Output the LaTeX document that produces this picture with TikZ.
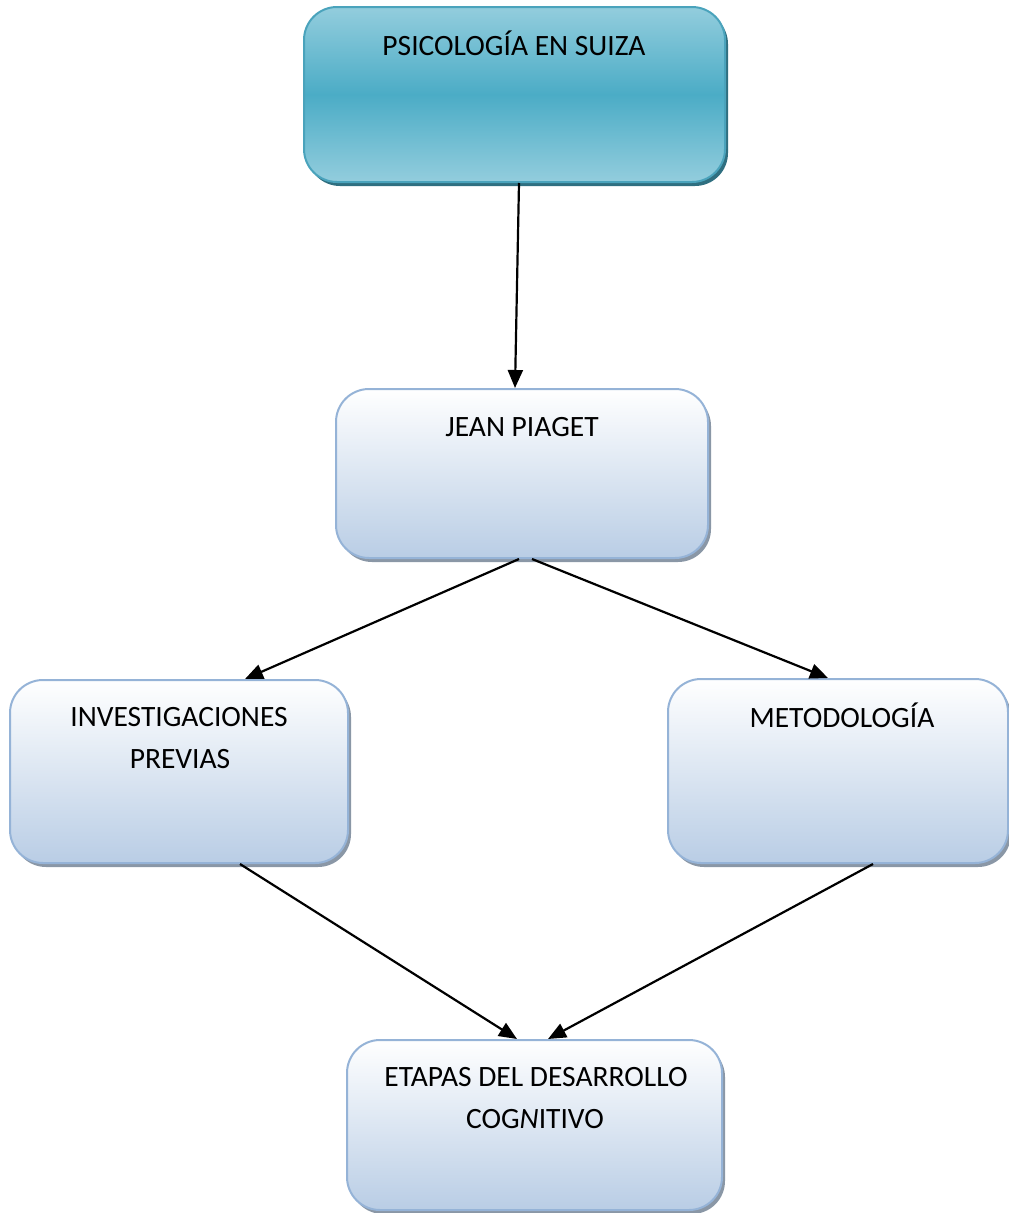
\documentclass[tikz,border=0pt]{standalone}
\usepackage{fontspec}
\setmainfont{Carlito}
\usetikzlibrary{arrows.meta,shadows}
\definecolor{tealmid}{HTML}{4BACC6}
\definecolor{teallight}{HTML}{93CDDD}
\definecolor{tealedge}{HTML}{4AA3BC}
\definecolor{tealshadow}{HTML}{2F6F80}
\definecolor{bluebot}{HTML}{B9CDE5}
\definecolor{blueedge}{HTML}{95B3D7}
\definecolor{grayshadow}{HTML}{8A97A6}
\tikzset{
  topbox/.style={rectangle, rounded corners=33pt, draw=tealedge, line width=2pt,
    top color=teallight, bottom color=teallight, middle color=tealmid,
    drop shadow={shadow xshift=3pt, shadow yshift=-4pt, fill=tealshadow, opacity=1},
    inner sep=0pt},
  lightbox/.style={rectangle, rounded corners=33pt, draw=blueedge, line width=2pt,
    top color=white, bottom color=bluebot,
    drop shadow={shadow xshift=3pt, shadow yshift=-4pt, fill=grayshadow, opacity=1},
    inner sep=0pt},
  txt/.style={anchor=base, inner sep=0pt, font=\fontsize{29.5}{34}\selectfont},
  conn/.style={line width=2.2pt, -{Triangle[length=18pt,width=15pt]}}
}
\begin{document}
\begin{tikzpicture}[x=1pt,y=-1pt]
\useasboundingbox (0,0) rectangle (1009,1213);
% boxes
\node[topbox, minimum width=421pt, minimum height=175pt] (ps) at (514.5,94.5) {};
\node[lightbox, minimum width=372pt, minimum height=169pt] (jp) at (522,473.5) {};
\node[lightbox, minimum width=338pt, minimum height=183pt] (inv) at (179,771.5) {};
\node[lightbox, minimum width=340pt, minimum height=184pt] (met) at (838,771) {};
\node[lightbox, minimum width=375pt, minimum height=170pt] (et) at (534.5,1125) {};
% texts
\node[txt] (pst) at (514,55) {PSICOLOGÍA EN SUIZA};
\node[txt] (jpt) at (522,436) {JEAN PIAGET};
\node[txt] (invt1) at (179,726) {INVESTIGACIONES};
\node[txt] (invt2) at (180,768) {PREVIAS};
\node[txt] (mett) at (842,727) {METODOLOGÍA};
\node[txt] (ett1) at (536,1086) {ETAPAS DEL DESARROLLO};
\node[txt] (ett2) at (535,1128) {COG\textit{N}ITIVO};
% connectors
\draw[conn] ([xshift=4.5pt]ps.south) -- ([xshift=-7pt]jp.north);
\draw[conn] ([xshift=-3pt]jp.south) -- ([xshift=66pt]inv.north);
\draw[conn] ([xshift=10pt]jp.south) -- ([xshift=-10pt]met.north);
\draw[conn] ([xshift=61pt]inv.south) -- ([xshift=-17.5pt]et.north);
\draw[conn] ([xshift=35pt]met.south) -- ([xshift=13.5pt]et.north);
\end{tikzpicture}
\end{document}
